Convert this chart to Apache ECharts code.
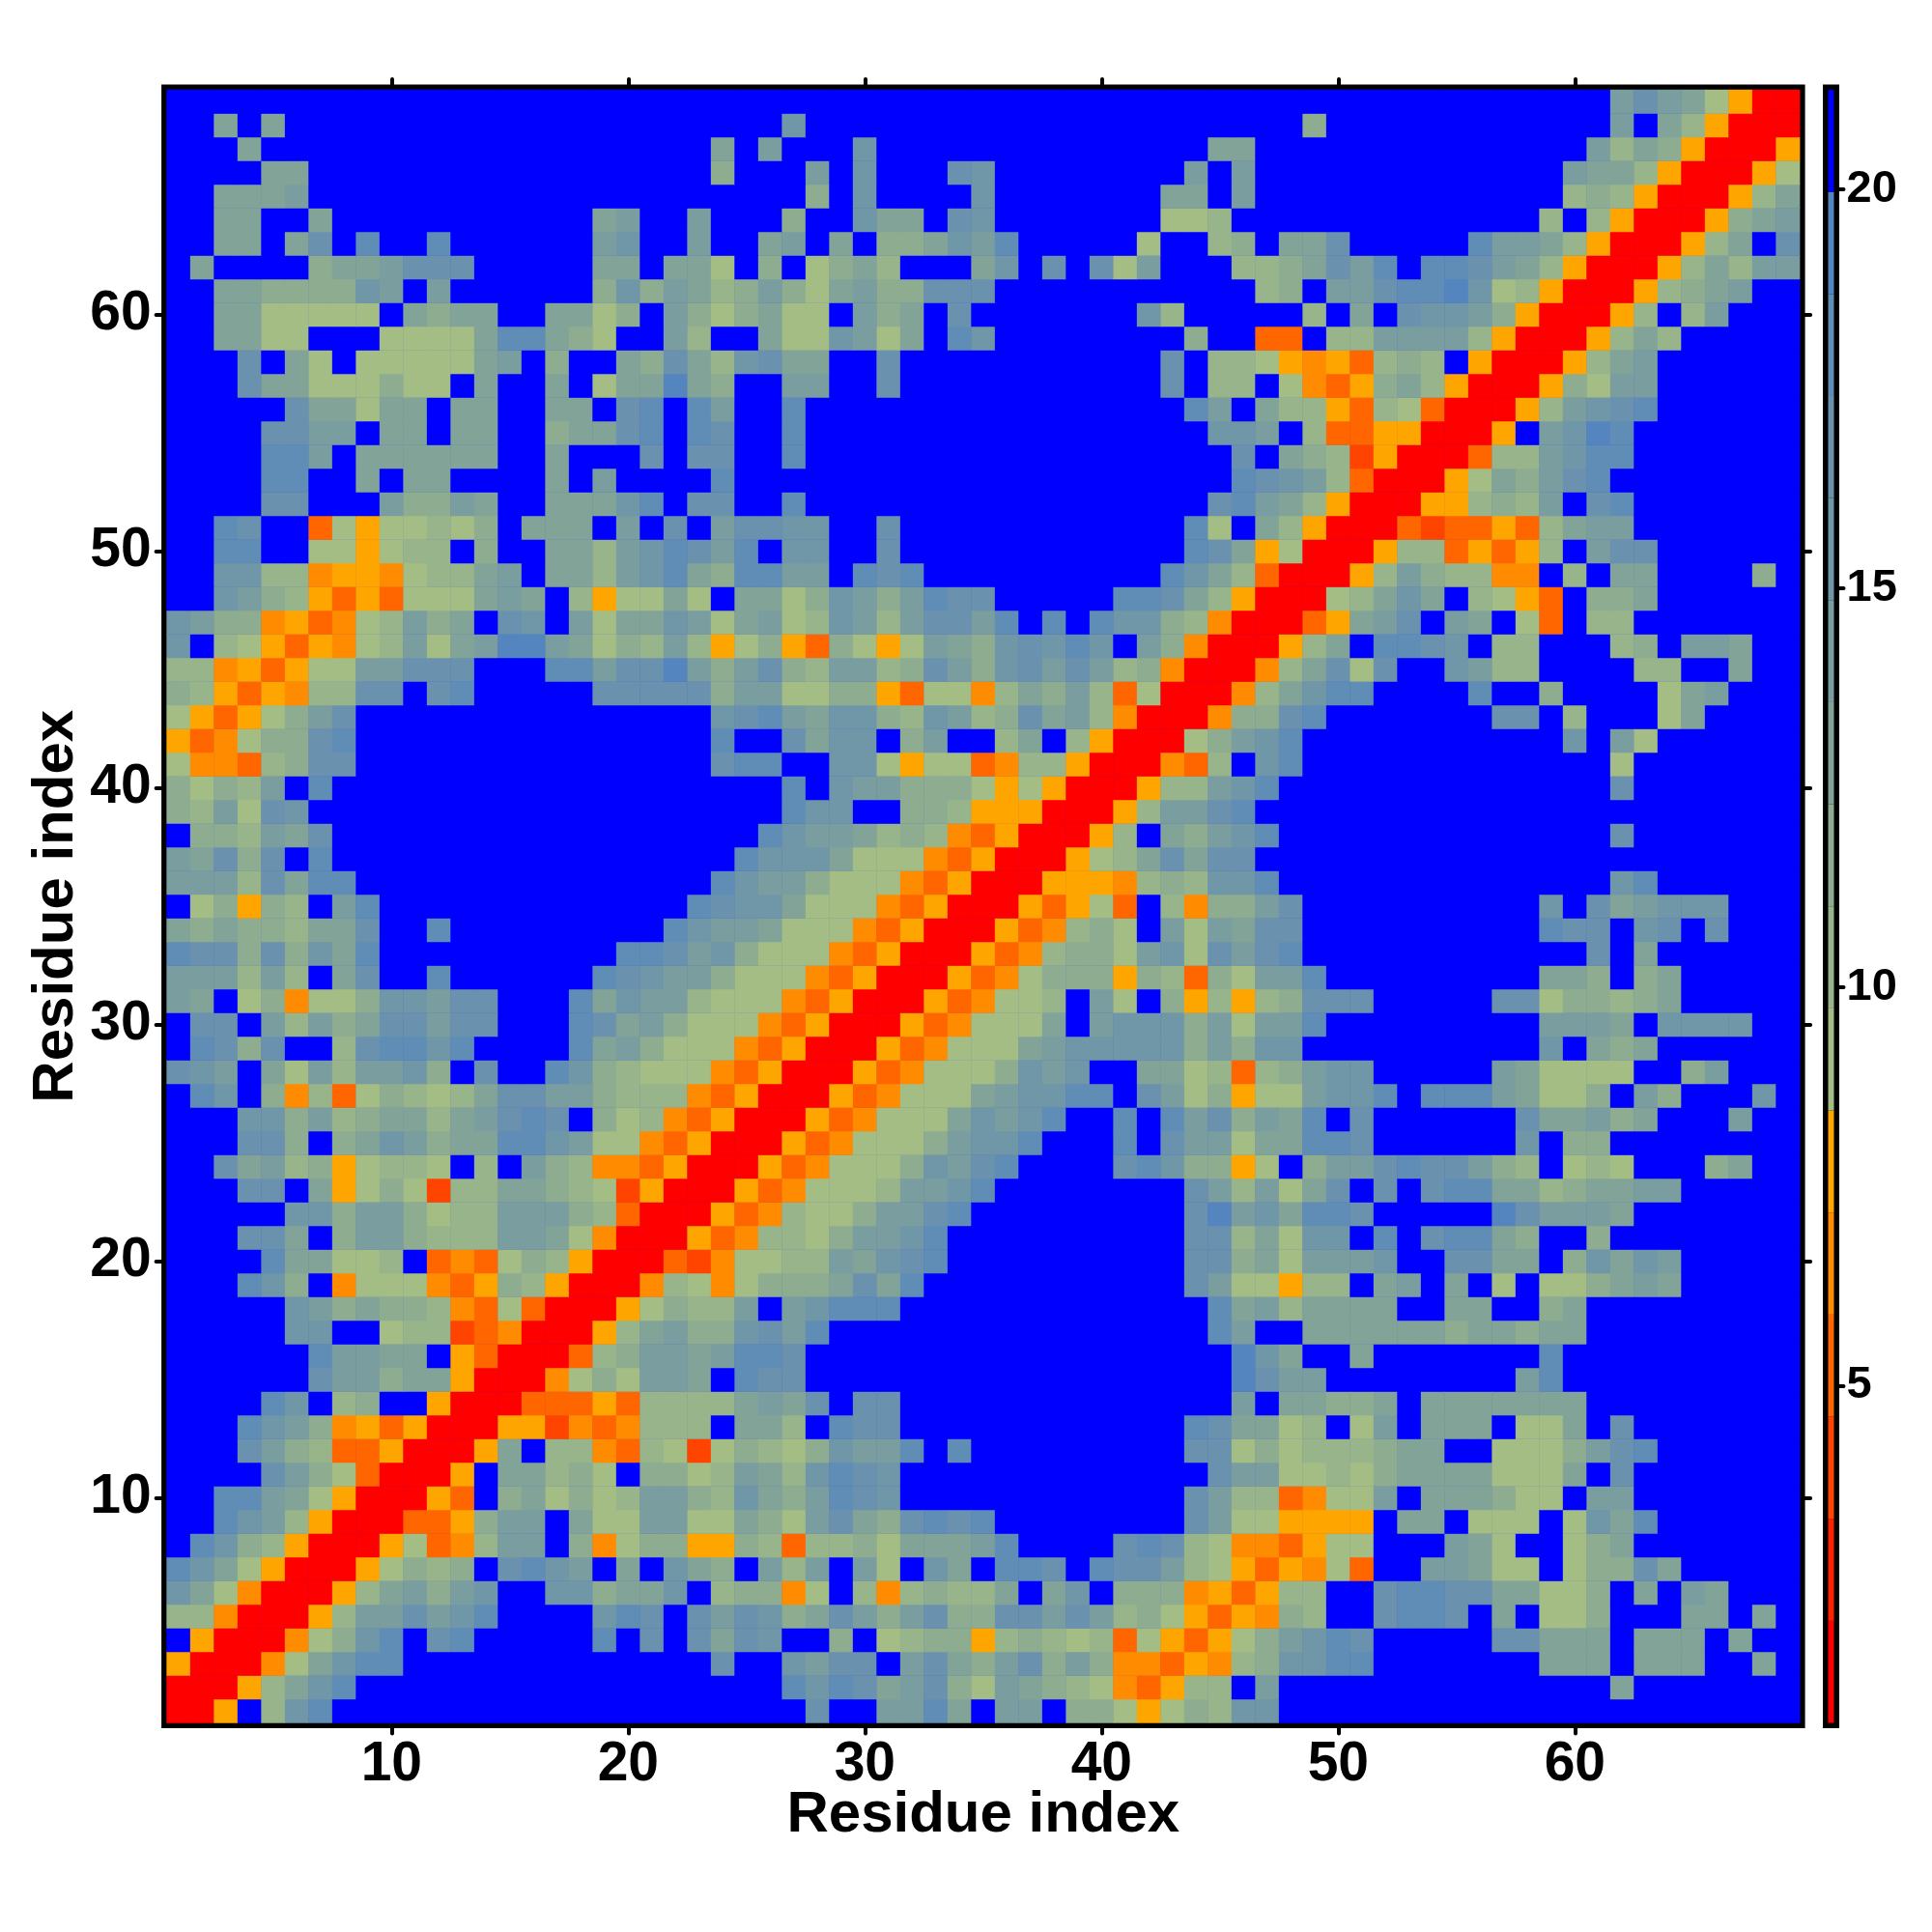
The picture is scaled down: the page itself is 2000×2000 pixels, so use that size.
<!DOCTYPE html>
<html>
<head>
<meta charset="utf-8">
<style>html,body{margin:0;padding:0;background:#fff}#c{width:2000px;height:2000px}</style>
<script src="https://cdn.jsdelivr.net/npm/echarts@6/dist/echarts.min.js"></script>
</head>
<body>
<div id="c"></div>
<script>
// Contact-distance map: symmetric, so each row y holds columns x = 1..y (level codes, grouped by tens).
const rowsTop = {
69:".......... .......... .......... .......... .......... .......... .egedaARR",
68:"..d.d..... .......... ......f... .......... ........c. .......... .e.dbARR",
67:"...d...... .......... ...d.e...f .......... ....dd.... .......... ebdcARR",
66:"....dd.... .......... ...c...e.f ...gf..... ...e.e.... .........e ddbARR",
65:"..ddde.... .......... .......c.f ....f..... ..dd.e.... .........b cbARR",
64:"..dd..d... ........de ..e...c..f dd.gf..... ..aab..... ........b. bARR",
63:"..dd.dg.h. .h......ef ..e..de.d. ccdfeh.... .a..bc.ddg .....heedb ARR",
62:".d....cdde ggg.....dd .dda.c.acd b...df.g.g ae...bbcdg eh.hhgedbA RR",
61:"..ddccccfe .e......cf cedbcecade ccggg..... ......bc.e eghhifabAR R",
60:"..ddaaaaa. dcdd..ddac .ecacdaa.e cd.g...... .fb.....b. d.gffecARR",
59:"..ddaa...a aaadhhdca. .eb..daafe ad.hf..... ...c..OO.b beeeebARR",
58:"...g.da.aa aaade.c..d cgdbfgdd.. g......... ..g.bbaANA Obcb.ARR",
57:"...gddaaac aa.d..d.ad didc..ee.. g......... ..g.bb.aNO AcdbARR",
56:".....gddad d.dd..dd.g h.he..h... .......... ...he.dbbA ObaORR",
55:"....ggee.d d.dd..cddg h.hg..h... .......... ....ffe.bO OAARR",
54:"....hhe.dd dddd..d... g.gg..h... .......... .....g.dcb DARR",
53:"....hh..d. dd....d.e. ...h...... .......... .....hgfeb ORR",
52:"....gg...e cced..dddf h.gg..h... .......... ....ghedbA RR",
51:"..hg..OaAa abac.ddd.e .g.eggff.. g......... ...ha.dbAR R",
50:"..hh..aaAa bb.c..ddbe fhgeh.ff.. g......... ...hgdAaRR",
49:"..ffbbNAAN abbde.ddbe fhdchhee.h gh........ ..hfdbORR",
48:"..fecbAOAO aaaded.bAa ada.ddacfe cehgg..... hhgdbARR",
47:"feccNAONab ecd.gf.ead dfeadeabfe beggeh.h.h ffcbNRR",
46:"f.baAOANab eadeiiedac bebAacAOca Aaedcfgfhf .ecNRR",
45:"bbNAOAaaee ggg...hheg giecegcbee bcgecfgege bcNRR",
44:"cbAOANbbgg .gh.....gg gggceeaacc AOaaNbdceb OaRR",
43:"aAOAaceg.. .......... ...fghedff cbfebcgdeb NRR",
42:"AONaccgh.. .......... ...h..gdff .ce..bd.bA RR",
41:"aNNObcgg.. .......... ...ghh..ff aAaaONbbAR R",
40:"cacbe.h... .......... ......h.fe ecccaAaARR"
};
const rowsMid = {
39:"cbeagf.... .......... ......hff. .ccbAAARR",
38:".ccbedg... .......... .....hfeed bcbNOARR",
37:"edgcg.h... .......... ....hfffda aaNOARR",
36:"eeebgdhh.. .......... ...hfeecaa aNOARR",
35:".acAcb.eh. .......... ..hgffdaaa NOARR",
34:"dcdccbddg. .h........ .hfeedaaaN OARR",
33:"hggcgcfdh. .........h hgefcaaaNO ARR",
32:"eeebeb.dg. .h......hg feecaaaNOA RR",
31:"ed.acNaacf fegg...hdf eebaaaNOAR R",
30:".gg.ebecdg gegg...hgd ecaaaNOARR",
29:".hgcg..bgh hfh....hde caaaNOARR",
28:"gfe.daebee fc.g..hfcb aaaNOARR",
27:".hf.cNbOac babdggeecb bbNOARR",
26:"...ffcebcd dbdeghg.ca bNOARR",
25:"...ggc.cdf ecddhhfeaa NOARR",
24:"..gdebcAab ba.b.ecbNN OARR",
23:"...gg.dAac aDbbddcbaD ARR",
22:".....ffcee cabbeeecbO RR",
21:"...ggd.cee cbbbeedaNR R",
20:"....hddaab .ONOacbARR"
};
const rowsLow = {
19:"...hfc.Naa aNOAcbARR",
18:".....fecdc cbNOaORR",
17:".....ff..a bbDONRR",
16:"......heed d.AORR",
15:"......geec ddARR",
14:"....hf.bc. .ARR",
13:"...hfecNAO ARR",
12:"...gecbOOA RR",
11:"....gecaOR R",
10:"..hhedaARR",
9:"..hfebARR",
8:".hfcbARR",
7:"hfdaARR",
6:"fdaNRR",
5:"bbNRR",
4:".ARR",
3:"ARR",
2:"RR",
1:"R"
};

// Colour scale: 16 equal bands from the colour bar.
const bandCodes  = ["R","Q","D","O","N","A","a","b","c","d","e","f","g","h","i","."];
const bandColors = ["#ff0000","#ff2200","#ff4400","#ff6600","#ff8c00","#ffa500",
                    "#a3bd85","#98b48a","#8dac90","#82a498","#7a9da0","#7097a8","#6a92ae","#5f8db5","#5585bf","#0000ff"];
const bandEdges  = [0.77,2.05,3.33,4.61,5.89,7.17,8.45,9.73,11.01,12.29,13.57,14.85,16.13,17.41,18.69,19.97,21.25];
const residues   = Array.from({length:69},(_,i)=>String(i+1));
const axisTicks  = [10,20,30,40,50,60];
const barTicks   = [5,10,15,20];

const allRows = Object.assign({}, rowsTop, rowsMid, rowsLow);
const cells = [];
for (const y in allRows) {
  const s = allRows[y].replace(/ /g,'');
  for (let i=0;i<s.length;i++) {
    const k = bandCodes.indexOf(s[i]);
    const v = (bandEdges[k]+bandEdges[k+1])/2;
    const yi = +y-1;
    cells.push([i,yi,v]);
    if (i!==yi) cells.push([yi,i,v]);
  }
}
const font = 'Liberation Sans';
const showTick = (i,v)=>axisTicks.includes(+v);
const tickStyle = {show:true,length:11,alignWithLabel:true,interval:showTick,lineStyle:{color:'#000',width:4,cap:'round'}};
const catAxis = (extra)=>Object.assign({type:'category',data:residues,gridIndex:0,boundaryGap:true,
  axisLine:{show:false},axisTick:tickStyle,splitLine:{show:false},splitArea:{show:false}},extra);
const mainLabel = {show:true,interval:showTick,color:'#000',fontFamily:font,fontWeight:'bold',fontSize:57};
const titleStyle = {color:'#000',fontFamily:font,fontWeight:'bold',fontSize:60};

const option = {
  animation:false,
  backgroundColor:'#fff',
  grid:[
    {left:172.6,top:93,width:1690.5,height:1690.5,show:true,borderColor:'#000',borderWidth:11,backgroundColor:'#00f'},
    {left:1892.5,top:93,width:6,height:1690.5,show:true,borderColor:'#000',borderWidth:11}
  ],
  xAxis:[
    catAxis({position:'bottom',axisLabel:Object.assign({margin:15},mainLabel),name:'Residue index',nameLocation:'middle',nameGap:66,nameMoveOverlap:false,nameTextStyle:titleStyle}),
    catAxis({position:'top',axisLabel:{show:false}}),
    {type:'category',gridIndex:1,data:['bar'],axisLine:{show:false},axisTick:{show:false},axisLabel:{show:false}}
  ],
  yAxis:[
    catAxis({position:'left',axisLabel:Object.assign({margin:16},mainLabel),name:'Residue index',nameLocation:'middle',nameGap:84,nameMoveOverlap:false,nameRotate:90,nameTextStyle:titleStyle}),
    catAxis({position:'right',axisLabel:{show:false}}),
    {type:'value',gridIndex:1,position:'right',min:bandEdges[0],max:bandEdges[16],splitLine:{show:false},axisLine:{show:false},
     axisTick:{show:true,length:10,customValues:barTicks,lineStyle:{color:'#000',width:4,cap:'round'}},
     axisLabel:{show:true,customValues:barTicks,margin:13,color:'#000',fontFamily:font,fontWeight:'bold',fontSize:47}}
  ],
  visualMap:{show:false,type:'piecewise',seriesIndex:0,dimension:2,
    pieces:bandColors.map((c,i)=>({min:bandEdges[i],max:bandEdges[i+1],color:c}))},
  series:[
    {type:'heatmap',xAxisIndex:0,yAxisIndex:0,data:cells,progressive:0,itemStyle:{borderWidth:0},emphasis:{disabled:true}}
  ].concat(bandColors.map((c,i)=>({
    type:'bar',xAxisIndex:2,yAxisIndex:2,stack:'bar',barWidth:'100%',silent:true,
    data:[i===0?bandEdges[1]:bandEdges[i+1]-bandEdges[i]],itemStyle:{color:c}
  })))
};
echarts.init(document.getElementById('c'),null,{renderer:'canvas'}).setOption(option);
</script>
</body>
</html>
